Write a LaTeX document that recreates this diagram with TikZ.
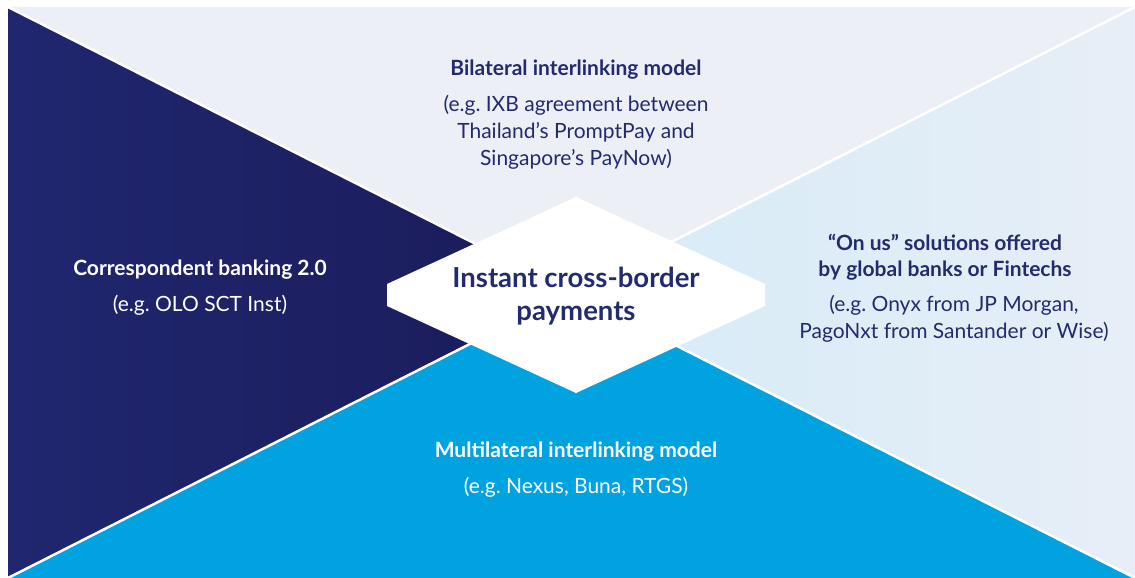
\documentclass[tikz,border=0pt]{standalone}
\usepackage{fontspec}
\setmainfont{Lato}
\frenchspacing
\definecolor{navy}{HTML}{232B6F}
\definecolor{navyL}{HTML}{20276F}
\definecolor{navyR}{HTML}{1A1B59}
\definecolor{topgray}{HTML}{ECEFF6}
\definecolor{ltblueL}{HTML}{D5EBF7}
\definecolor{ltblueR}{HTML}{E7EEF7}
\definecolor{cyanblue}{HTML}{00A3DF}
\tikzset{
  sep/.style={draw=white, line width=2.5pt},
  head/.style={font=\fontsize{21}{26.5}\selectfont\bfseries, align=center, inner sep=0pt},
  sub/.style={font=\fontsize{21}{27}\selectfont, align=center, inner sep=0pt},
}
\begin{document}
\begin{tikzpicture}[x=1pt,y=-1pt]
\useasboundingbox (0,0) rectangle (1135,578);
\fill[white] (0,0) rectangle (1135,578);
\coordinate (TL) at (8,7);
\coordinate (TR) at (1135,7);
\coordinate (BL) at (8,578);
\coordinate (BR) at (1135,578);
\coordinate (C) at (571.5,292.5);
% regions
\fill[topgray] (TL) -- (TR) -- (C) -- cycle;
\shade[left color=navyL, right color=navyR] (TL) -- (C) -- (BL) -- cycle;
\shade[left color=ltblueL, right color=ltblueR] (TR) -- (C) -- (BR) -- cycle;
\fill[cyanblue] (BL) -- (C) -- (BR) -- cycle;
% separators
\draw[sep] (TL) -- (C) -- (BR);
\draw[sep] (BL) -- (C) -- (TR);
% hexagon
\fill[white] (576,197) -- (765,284) -- (765,306) -- (576,393) -- (387,306) -- (387,284) -- cycle;
\node[font=\fontsize{27.5}{33}\selectfont\bfseries, text=navy, align=center, inner sep=0pt] (hub) at (576,296) {Instant cross-border\\payments};
% top
\node[head, text=navy] (toph) at (576,70) {Bilateral interlinking model};
\node[sub, text=navy] (tops) at (576,132) {(e.g. IXB agreement between\\Thailand’s PromptPay and\\Singapore’s PayNow)};
% left
\node[head, text=white] (lefth) at (200,270) {Correspondent banking 2.0};
\node[sub, text=white] (lefts) at (200,305) {(e.g. OLO SCT Inst)};
% right
\node[head, text=navy] (righth) at (945,257) {“On us” solutions offered\\by global banks or Fintechs};
\node[sub, text=navy] (rights) at (954,319) {(e.g. Onyx from JP Morgan,\\PagoNxt from Santander or Wise)};
% bottom
\node[head, text=white] (both) at (576,452) {Multilateral interlinking model};
\node[sub, text=white] (bots) at (576,487) {(e.g. Nexus, Buna, RTGS)};
\end{tikzpicture}
\end{document}
